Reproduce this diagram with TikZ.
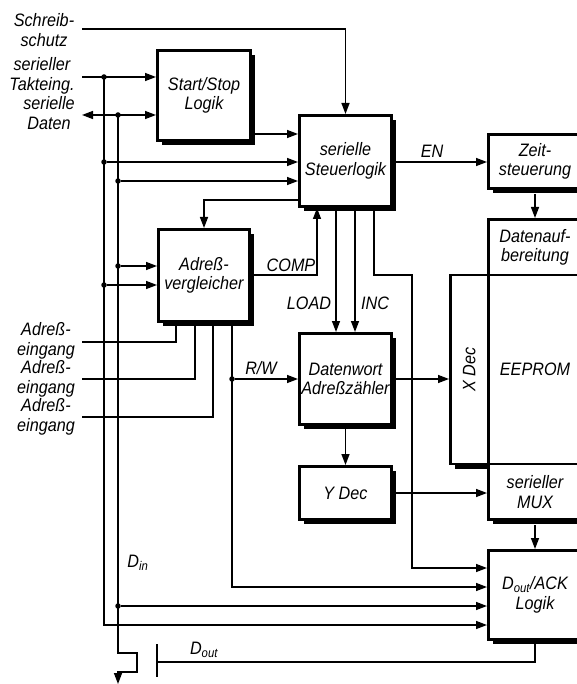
\documentclass[tikz,border=0pt]{standalone}
\usepackage{graphicx}
\usepackage{fontspec}
\setmainfont{Liberation Sans}[FakeStretch=0.9]
\usetikzlibrary{arrows.meta,shadows}
\begin{document}
\begin{tikzpicture}[x=1pt,y=-1pt,
  font=\fontsize{18}{19.5}\selectfont\itshape,
  blk/.style={draw, line width=2.6pt, fill=white, inner sep=0pt, align=center,
     drop shadow={shadow xshift=4.5pt, shadow yshift=-4.5pt, fill=black, opacity=1}},
  ln/.style={line width=1.4pt},
  arr/.style={ln, -{Triangle[length=11pt,width=8pt]}},
  dot/.style={circle, fill, inner sep=0pt, minimum size=5.5pt},
  lbl/.style={align=center, inner sep=0pt},
]
\useasboundingbox (0,0) rectangle (577,684);
\clip (0,0) rectangle (577,684);

% ---------- boxes ----------
\node[blk, minimum width=93.4pt, minimum height=90.4pt] (ss) at (204,95.5) {Start/Stop\\Logik};
\node[blk, minimum width=92.4pt, minimum height=91.4pt] (sl) at (345.5,161) {serielle\\Steuerlogik};
\node[blk, minimum width=91.4pt, minimum height=92.4pt] (av) at (204,275.5) {Adreß-\\vergleicher};
\node[blk, minimum width=92.4pt, minimum height=91.4pt] (dw) at (345.5,379) {Datenwort\\Adreßzähler};
\node[blk, minimum width=92.4pt, minimum height=53.4pt] (yd) at (345.5,493) {Y Dec};
\node[blk, minimum width=93.4pt, minimum height=54.4pt] (ze) at (535,161.5) {Zeit-\\steuerung};
\node[blk, minimum width=93.4pt, minimum height=55.7pt] (da) at (535,247.15) {Datenauf-\\bereitung};
\node[blk, minimum width=38pt, minimum height=189pt] (xd) at (469.3,369.5) {\rotatebox{90}{X Dec}};
\node[blk, minimum width=93.4pt, minimum height=189pt] (ep) at (535,369.5) {EEPROM};
\node[blk, minimum width=93.4pt, minimum height=55.7pt] (mx) at (535,491.85) {serieller\\MUX};
\node[blk, minimum width=93.4pt, minimum height=89.4pt] (dl) at (535,595) {D\textsubscript{out}/ACK\\Logik};

% ---------- external labels ----------
\node[lbl] (wp) at (44,30) {Schreib-\\schutz};
\node[lbl] (tk) at (42,76) {serieller\\Takteing.};
\node[lbl] (sd) at (49,113) {serielle\\Daten};
\node[lbl] (ae1) at (46,341) {Adreß-\\eingang};
\node[lbl] (ae2) at (46,379) {Adreß-\\eingang};
\node[lbl] (ae3) at (46,417) {Adreß-\\eingang};

% ---------- connector labels ----------
\node[lbl] (len) at (432,151) {EN};
\node[lbl] (lcomp) at (291,265) {COMP};
\node[lbl] (lload) at (309,303) {LOAD};
\node[lbl] (linc) at (375,303) {INC};
\node[lbl] (lrw) at (261,368) {R/W};
\node[lbl] (ldin) at (138,563) {D\textsubscript{in}};
\node[lbl] (ldout) at (204,650) {D\textsubscript{out}};

% ---------- coordinates ----------
\coordinate (wpS) at (82,29);
\coordinate (tkS) at (82,77);
\coordinate (dtS) at (82,115);
\coordinate (a1S) at (82,342);
\coordinate (a2S) at (82,379);
\coordinate (a3S) at (82,417);
\coordinate (dinE) at (118,684);
\coordinate (barT) at (157,644);
\coordinate (barB) at (157,677);
\coordinate (barM) at (157,662);

% ---------- dots ----------
\node[dot] (p1) at (104,77) {};
\node[dot] (p2) at (118,115) {};
\node[dot] (p3) at (104,162) {};
\node[dot] (p4) at (118,181) {};
\node[dot] (p5) at (118,266) {};
\node[dot] (p6) at (104,285) {};
\node[dot] (p7) at (232,379) {};
\node[dot] (p8) at (118,606) {};

% ---------- connectors ----------
\draw[arr] (wpS) -| (sl.north);
\draw[arr] (tkS) -- (ss.west |- tkS);
\draw[ln, {Triangle[length=11pt,width=8pt]}-{Triangle[length=11pt,width=8pt]}] (dtS) -- (ss.west |- dtS);
\draw[arr] (p1.center) -- (104,625) -- (dl.west |- 0,625);
\draw[arr] (p2.center) -- (118,653) -- (137,653) -- (137,672) -- (118,672) -- (dinE);
\draw[arr] (ss.east |- 0,134) -- (sl.west |- 0,134);
\draw[arr] (p3) -- (sl.west |- p3);
\draw[arr] (p4) -- (sl.west |- p4);
\draw[arr] (sl.west |- 0,200) -| (av.north);
\draw[arr] (p5) -- (av.west |- p5);
\draw[arr] (p6) -- (av.west |- p6);
\draw[arr] (av.east |- 0,275) -| (sl.south -| 317,0);
\draw[ln] (a1S) -| (av.south -| 176,0);
\draw[ln] (a2S) -| (av.south -| 195,0);
\draw[ln] (a3S) -| (av.south -| 213,0);
\draw[arr] (av.south -| 232,0) |- (dl.west |- 0,587);
\draw[arr] (p7) -- (dw.west |- p7);
\draw[arr] (sl.south -| 336,0) -- (dw.north -| 336,0);
\draw[arr] (sl.south -| 355,0) -- (dw.north -| 355,0);
\draw[arr] (sl.south -| 374,0) -- (374,275) -| (412,568) -- (dl.west |- 0,568);
\draw[arr] (dw.east) -- (xd.west |- dw.east);
\draw[arr] (dw.south) -- (yd.north);
\draw[arr] (yd.east) -- (mx.west |- yd.east);
\draw[arr] (sl.east |- 0,162) -- (ze.west |- 0,162);
\draw[arr] (ze.south) ++(0,4) -- (da.north);
\draw[arr] (mx.south) ++(0,4) -- (dl.north);
\draw[arr] (p8) -- (dl.west |- p8);
\draw[ln] (dl.south) |- (barM);
\draw[line width=2.6pt] (barT) -- (barB);
\end{tikzpicture}
\end{document}
